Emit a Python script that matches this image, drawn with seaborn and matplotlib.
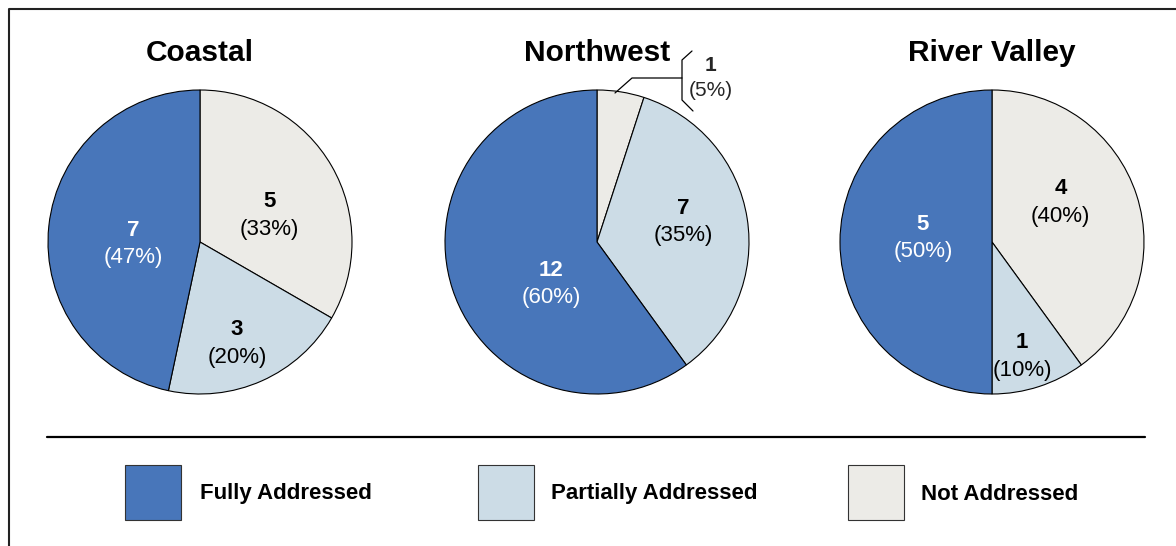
import matplotlib
matplotlib.use("Agg")
import matplotlib.pyplot as plt
from matplotlib.patches import Rectangle
from matplotlib.lines import Line2D
import seaborn as sns
import numpy as np

# ---- data ----
regions = ["Coastal", "Northwest", "River Valley"]
categories = ["Not Addressed", "Partially Addressed", "Fully Addressed"]
coastal = [5, 3, 7]
northwest = [1, 7, 12]
river_valley = [4, 1, 5]
legend_order = ["Fully Addressed", "Partially Addressed", "Not Addressed"]

sns.set_theme(style="white")
plt.rcParams["font.family"] = ["Liberation Sans", "DejaVu Sans"]

colors = {"Fully Addressed": "#4876BA",
          "Partially Addressed": "#CCDCE6",
          "Not Addressed": "#ECEBE7"}

W, H = 1176, 546
fig = plt.figure(figsize=(W / 100, H / 100), dpi=100)

def fx(x):
    return x / W

def fy(y):
    return 1 - y / H

# frame
fig.add_artist(Line2D([fx(9), fx(9), fx(1176)], [fy(546), fy(9), fy(9)],
                      color="#222222", lw=1.5, transform=fig.transFigure))

R = 152
centers = [(200, 242), (597, 242), (992, 242)]
series = [coastal, northwest, river_valley]
# (radial fraction, angular shift in degrees) for label placement per slice
label_pos = [[(0.49, -8.9), (0.71, -3.9), (0.44, 7.7)],
             [None, (0.58, 4.1), (0.41, 24.4)],
             [(0.52, 11.8), (0.78, -3.3), (0.455, -3.3)]]

for name, vals, (cx, cy), lp in zip(regions, series, centers, label_pos):
    ax = fig.add_axes([fx(cx - R), fy(cy + R), 2 * R / W, 2 * R / H])
    wedges, _ = ax.pie(vals, colors=[colors[c] for c in categories],
                       startangle=90, counterclock=False,
                       wedgeprops=dict(edgecolor="black", linewidth=0.8))
    ax.set_xlim(-1, 1)
    ax.set_ylim(-1, 1)
    ax.set_aspect("equal")
    ax.axis("off")
    total = sum(vals)
    for w, v, c, p in zip(wedges, vals, categories, lp):
        pct = round(v / total * 100)
        if p is None:
            continue
        r, shift = p
        ang = np.deg2rad((w.theta1 + w.theta2) / 2 + shift)
        x, y = r * np.cos(ang), r * np.sin(ang)
        col = "white" if c == "Fully Addressed" else "black"
        ax.annotate(f"{v}", (x, y), xytext=(0, 10), textcoords="offset points",
                    ha="center", va="center", fontsize=16, fontweight="bold", color=col)
        ax.annotate(f"({pct}%)", (x, y), xytext=(0, -10), textcoords="offset points",
                    ha="center", va="center", fontsize=16, color=col)
    fig.text(fx(cx), fy(53), name, ha="center", va="center",
             fontsize=21.5, fontweight="bold", color="black")
    if name == "Northwest":
        # callout for the small slice
        def d(px, py):
            return ((px - cx) / R, (cy - py) / R)
        pts = [d(615, 93), d(632, 78), d(682, 78)]
        ax.plot([q[0] for q in pts], [q[1] for q in pts], color="black", lw=0.9, clip_on=False)
        br = [d(692, 51), d(682, 60), d(682, 100), d(693, 111)]
        ax.plot([q[0] for q in br], [q[1] for q in br], color="black", lw=0.9, clip_on=False)
        v = vals[0]
        pct = round(v / total * 100)
        tx, ty = d(711, 65)
        ax.text(tx, ty, f"{v}", ha="center", va="center", fontsize=15,
                fontweight="bold", clip_on=False)
        tx, ty = d(711, 90)
        ax.text(tx, ty, f"({pct}%)", ha="center", va="center", fontsize=15, clip_on=False)

# separator line
fig.add_artist(Line2D([fx(47), fx(1145)], [fy(437), fy(437)], color="black", lw=1.6,
                      transform=fig.transFigure))

# legend
box_x = [125, 478, 848]
text_x = [200, 551, 921]
for lab, bx, tx in zip(legend_order, box_x, text_x):
    fig.add_artist(Rectangle((fx(bx), fy(520)), 56 / W, 55 / H, facecolor=colors[lab],
                             edgecolor="#333333", lw=0.8, transform=fig.transFigure))
    fig.text(fx(tx), fy(494), lab, ha="left", va="center", fontsize=16,
             fontweight="bold", color="black")

fig.savefig("out.png", dpi=100)
